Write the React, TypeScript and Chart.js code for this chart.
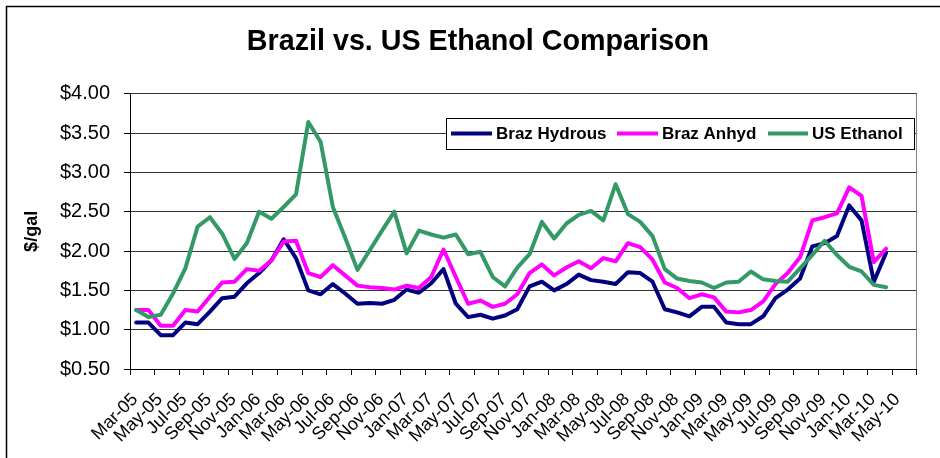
import React, { useEffect, useRef } from 'react';
import { Chart, registerables } from 'chart.js';

Chart.register(...registerables);

const months: string[] = [
  'Mar-05', 'Apr-05', 'May-05', 'Jun-05', 'Jul-05', 'Aug-05', 'Sep-05', 'Oct-05', 'Nov-05', 'Dec-05',
  'Jan-06', 'Feb-06', 'Mar-06', 'Apr-06', 'May-06', 'Jun-06', 'Jul-06', 'Aug-06', 'Sep-06', 'Oct-06', 'Nov-06', 'Dec-06',
  'Jan-07', 'Feb-07', 'Mar-07', 'Apr-07', 'May-07', 'Jun-07', 'Jul-07', 'Aug-07', 'Sep-07', 'Oct-07', 'Nov-07', 'Dec-07',
  'Jan-08', 'Feb-08', 'Mar-08', 'Apr-08', 'May-08', 'Jun-08', 'Jul-08', 'Aug-08', 'Sep-08', 'Oct-08', 'Nov-08', 'Dec-08',
  'Jan-09', 'Feb-09', 'Mar-09', 'Apr-09', 'May-09', 'Jun-09', 'Jul-09', 'Aug-09', 'Sep-09', 'Oct-09', 'Nov-09', 'Dec-09',
  'Jan-10', 'Feb-10', 'Mar-10', 'Apr-10', 'May-10', 'Jun-10',
];

const brazHydrous: number[] = [
  1.09, 1.09, 0.93, 0.93, 1.09, 1.07, 1.23, 1.40, 1.42, 1.59,
  1.72, 1.88, 2.15, 1.91, 1.50, 1.45, 1.58, 1.46, 1.33, 1.34, 1.33, 1.38,
  1.51, 1.47, 1.59, 1.77, 1.33, 1.16, 1.19, 1.14, 1.18, 1.26, 1.55, 1.61,
  1.50, 1.58, 1.70, 1.63, 1.61, 1.58, 1.73, 1.72, 1.61, 1.26, 1.22, 1.17,
  1.29, 1.29, 1.09, 1.07, 1.07, 1.17, 1.40, 1.51, 1.65, 2.06, 2.10, 2.19,
  2.58, 2.39, 1.61, 1.98,
];

const brazAnhyd: number[] = [
  1.25, 1.25, 1.05, 1.05, 1.25, 1.23, 1.42, 1.60, 1.61, 1.77,
  1.75, 1.88, 2.12, 2.13, 1.72, 1.67, 1.82, 1.69, 1.56, 1.54, 1.53, 1.51,
  1.56, 1.53, 1.67, 2.02, 1.67, 1.33, 1.37, 1.29, 1.33, 1.45, 1.72, 1.83,
  1.69, 1.79, 1.87, 1.78, 1.91, 1.87, 2.10, 2.05, 1.89, 1.60, 1.53, 1.40,
  1.45, 1.41, 1.23, 1.22, 1.25, 1.36, 1.58, 1.72, 1.92, 2.39, 2.43, 2.48,
  2.81, 2.70, 1.86, 2.03,
];

const usEthanol: number[] = [
  1.25, 1.16, 1.19, 1.46, 1.78, 2.31, 2.43, 2.22, 1.90, 2.10,
  2.50, 2.41, 2.56, 2.72, 3.64, 3.39, 2.56, 2.17, 1.76, 2.01, 2.26, 2.50,
  1.97, 2.26, 2.21, 2.17, 2.21, 1.96, 1.99, 1.67, 1.55, 1.79, 1.96, 2.37,
  2.16, 2.35, 2.46, 2.51, 2.39, 2.85, 2.47, 2.37, 2.19, 1.77, 1.65, 1.62,
  1.60, 1.53, 1.60, 1.61, 1.74, 1.64, 1.62, 1.61, 1.78, 1.95, 2.13, 1.95,
  1.80, 1.74, 1.57, 1.54,
];

const seriesNames: string[] = ['Braz Hydrous', 'Braz Anhyd', 'US Ethanol'];
const seriesColors: string[] = ['#000080', '#FF00FF', '#339966'];

const FONT = '"Liberation Sans", Arial, Helvetica, sans-serif';

const App = () => {
  const ref = useRef<HTMLCanvasElement>(null);

  useEffect(() => {
    document.body.style.margin = '0';
    if (!ref.current) return;

    const framePlugin = {
      id: 'frame',
      beforeDraw(chart: any) {
        const ctx = chart.ctx;
        ctx.save();
        ctx.fillStyle = '#ffffff';
        ctx.fillRect(0, 0, chart.width, chart.height);
        ctx.strokeStyle = '#000000';
        ctx.lineWidth = 1.5;
        ctx.strokeRect(6.5, 6.5, chart.width + 100, chart.height + 100);
        ctx.restore();
      },
      afterDatasetsDraw(chart: any) {
        const { ctx, chartArea } = chart;
        ctx.save();
        ctx.strokeStyle = '#808080';
        ctx.lineWidth = 1;
        ctx.beginPath();
        const x = Math.round(chartArea.right) - 0.5;
        ctx.moveTo(x, chartArea.top);
        ctx.lineTo(x, chartArea.bottom);
        ctx.stroke();
        ctx.restore();
      },
    };

    const legendPlugin = {
      id: 'boxLegend',
      afterDraw(chart: any) {
        const ctx = chart.ctx;
        ctx.save();
        ctx.fillStyle = '#ffffff';
        ctx.fillRect(446, 118, 468, 31);
        ctx.strokeStyle = '#000000';
        ctx.lineWidth = 1;
        ctx.strokeRect(446.5, 118.5, 468, 31);
        const cy = 133.5;
        const items = [
          { x0: 451, x1: 492, tx: 496 },
          { x0: 617, x1: 658, tx: 662 },
          { x0: 768, x1: 808, tx: 812 },
        ];
        ctx.font = `bold 17px ${FONT}`;
        ctx.textBaseline = 'middle';
        ctx.textAlign = 'left';
        items.forEach((it, i) => {
          ctx.strokeStyle = seriesColors[i];
          ctx.lineWidth = 4;
          ctx.lineCap = 'butt';
          ctx.beginPath();
          ctx.moveTo(it.x0, cy);
          ctx.lineTo(it.x1, cy);
          ctx.stroke();
          ctx.fillStyle = '#000000';
          ctx.fillText(seriesNames[i], it.tx, cy + 1);
        });
        ctx.restore();
      },
    };

    const series = [brazHydrous, brazAnhyd, usEthanol];
    const tickCol = (c: any) =>
      c.index === undefined || c.index % 2 === 0 ? '#000000' : 'rgba(0,0,0,0)';

    const chart = new Chart(ref.current, {
      type: 'line',
      data: {
        labels: months,
        datasets: series.map((d, i) => ({
          label: seriesNames[i],
          data: d,
          borderColor: seriesColors[i],
          backgroundColor: seriesColors[i],
          borderWidth: 4,
          pointRadius: 0,
          tension: 0,
          fill: false,
          borderJoinStyle: 'round' as const,
          borderCapStyle: 'round' as const,
          order: 2 - i,
        })),
      },
      options: {
        responsive: false,
        animation: false,
        layout: { padding: { left: 18, right: 2, top: 0, bottom: 0 } },
        plugins: {
          legend: { display: false },
          tooltip: { enabled: false },
          title: {
            display: true,
            text: 'Brazil vs. US Ethanol Comparison',
            color: '#000000',
            font: { family: FONT, size: 28.7, weight: 'bold' },
            padding: { top: 25, bottom: 34.3 },
          },
        },
        scales: {
          x: {
            type: 'category',
            offset: true,
            grid: {
              offset: true,
              drawOnChartArea: false,
              drawTicks: true,
              tickLength: 6,
              color: tickCol,
              tickColor: tickCol,
              lineWidth: 1,
            },
            border: { display: true, color: '#000000', width: 1 },
            ticks: {
              autoSkip: false,
              maxRotation: 45,
              minRotation: 45,
              padding: 14,
              labelOffset: -1,
              color: '#000000',
              font: { family: FONT, size: 18 },
              callback: (_v: any, i: number) => (i % 2 === 0 ? months[i] : ''),
            },
            afterFit: (s: any) => {
              s.height = 89;
            },
          },
          y: {
            min: 0.5,
            max: 4,
            grid: { color: '#333333', tickColor: '#000000', tickLength: 6, drawTicks: true, lineWidth: 1 },
            border: { display: true, color: '#000000', width: 1 },
            ticks: {
              stepSize: 0.5,
              padding: 14,
              color: '#000000',
              font: { family: FONT, size: 20 },
              callback: (v: any) => '$' + Number(v).toFixed(2),
            },
            title: {
              display: true,
              text: '$/gal',
              color: '#000000',
              font: { family: FONT, size: 18, weight: 'bold' },
              padding: { top: 3, bottom: 0 },
            },
            afterFit: (s: any) => {
              s.width = 112;
            },
          },
        },
      } as any,
      plugins: [framePlugin, legendPlugin],
    });

    return () => chart.destroy();
  }, []);

  return (
    <div style={{ position: 'absolute', left: 0, top: 0, width: 940, height: 458 }}>
      <canvas ref={ref} width={940} height={458} style={{ display: 'block' }} />
    </div>
  );
};

export default App;
